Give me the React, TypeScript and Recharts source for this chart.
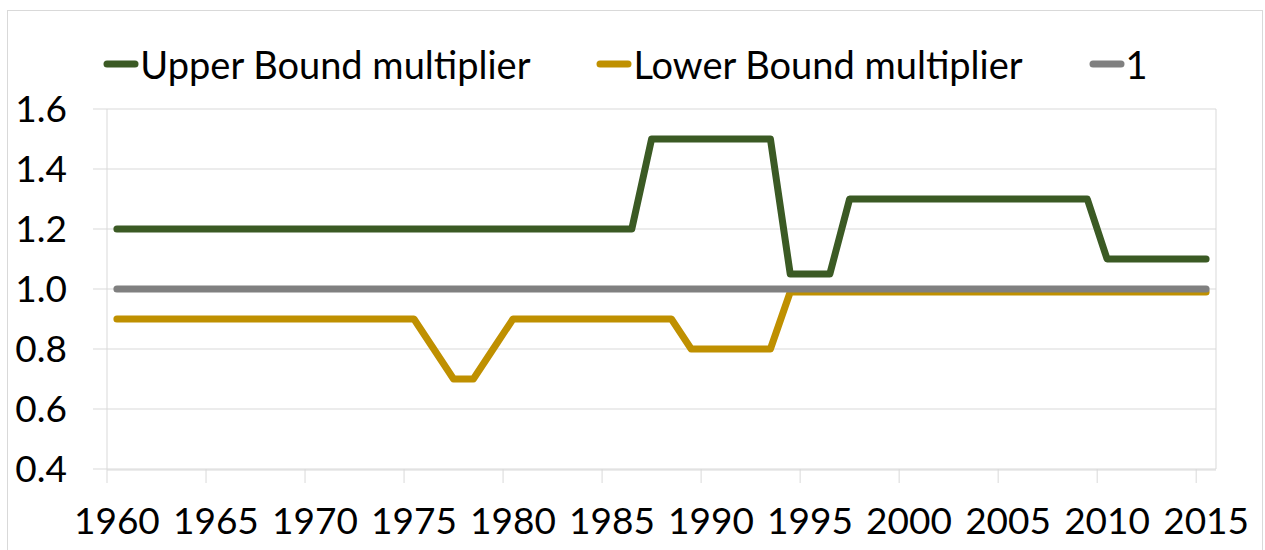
import React from 'react';
import {
  LineChart,
  Line,
  XAxis,
  YAxis,
  CartesianGrid,
  Legend,
  ReferenceLine,
} from 'recharts';

const years = [
  1960, 1961, 1962, 1963, 1964, 1965, 1966, 1967, 1968, 1969,
  1970, 1971, 1972, 1973, 1974, 1975, 1976, 1977, 1978, 1979,
  1980, 1981, 1982, 1983, 1984, 1985, 1986, 1987, 1988, 1989,
  1990, 1991, 1992, 1993, 1994, 1995, 1996, 1997, 1998, 1999,
  2000, 2001, 2002, 2003, 2004, 2005, 2006, 2007, 2008, 2009,
  2010, 2011, 2012, 2013, 2014, 2015,
];

const upperBound = [
  1.2, 1.2, 1.2, 1.2, 1.2, 1.2, 1.2, 1.2, 1.2, 1.2,
  1.2, 1.2, 1.2, 1.2, 1.2, 1.2, 1.2, 1.2, 1.2, 1.2,
  1.2, 1.2, 1.2, 1.2, 1.2, 1.2, 1.2, 1.5, 1.5, 1.5,
  1.5, 1.5, 1.5, 1.5, 1.05, 1.05, 1.05, 1.3, 1.3, 1.3,
  1.3, 1.3, 1.3, 1.3, 1.3, 1.3, 1.3, 1.3, 1.3, 1.3,
  1.1, 1.1, 1.1, 1.1, 1.1, 1.1,
];

const lowerBound = [
  0.9, 0.9, 0.9, 0.9, 0.9, 0.9, 0.9, 0.9, 0.9, 0.9,
  0.9, 0.9, 0.9, 0.9, 0.9, 0.9, 0.8, 0.7, 0.7, 0.8,
  0.9, 0.9, 0.9, 0.9, 0.9, 0.9, 0.9, 0.9, 0.9, 0.8,
  0.8, 0.8, 0.8, 0.8, 0.99, 0.99, 0.99, 0.99, 0.99, 0.99,
  0.99, 0.99, 0.99, 0.99, 0.99, 0.99, 0.99, 0.99, 0.99, 0.99,
  0.99, 0.99, 0.99, 0.99, 0.99, 0.99,
];

const unity = [
  1, 1, 1, 1, 1, 1, 1, 1, 1, 1,
  1, 1, 1, 1, 1, 1, 1, 1, 1, 1,
  1, 1, 1, 1, 1, 1, 1, 1, 1, 1,
  1, 1, 1, 1, 1, 1, 1, 1, 1, 1,
  1, 1, 1, 1, 1, 1, 1, 1, 1, 1,
  1, 1, 1, 1, 1, 1,
];

const seriesNames = ['Upper Bound multiplier', 'Lower Bound multiplier', '1'];
const yearLabels = [1960, 1965, 1970, 1975, 1980, 1985, 1990, 1995, 2000, 2005, 2010, 2015];
// tick marks sit between categories, like Excel's category axis
const tickMarkYears = [1959.5, 1964.5, 1969.5, 1974.5, 1979.5, 1984.5, 1989.5, 1994.5, 1999.5, 2004.5, 2009.5, 2014.5];
const yTicks = [0.4, 0.6, 0.8, 1.0, 1.2, 1.4, 1.6];

const data = years.map((year, i) => ({
  year,
  upper: upperBound[i],
  lower: lowerBound[i],
  one: unity[i],
}));

const FONT = 'Lato, "Open Sans", sans-serif';
const GRID = '#d9d9d9';

function LegendRow({ payload }: { payload?: Array<{ value: string; color: string }> }) {
  if (!payload) return null;
  const items = [...payload].sort(
    (a, b) => seriesNames.indexOf(a.value) - seriesNames.indexOf(b.value)
  );
  return (
    <div
      style={{
        height: 50,
        display: 'flex',
        alignItems: 'center',
        justifyContent: 'center',
        gap: 66,
        paddingRight: 14,
        fontFamily: FONT,
        fontSize: 38,
        color: '#000',
      }}
    >
      {items.map((p) => (
        <span key={p.value} style={{ display: 'flex', alignItems: 'center' }}>
          <svg width={36} height={10} style={{ marginRight: 1 }}>
            <line x1={4} y1={5} x2={32} y2={5} stroke={p.color} strokeWidth={7} strokeLinecap="round" />
          </svg>
          {p.value}
        </span>
      ))}
    </div>
  );
}

const NoLabel = () => <g />;

export default function App() {
  return (
    <div
      style={{
        position: 'absolute',
        left: 0,
        top: 0,
        width: 1265,
        height: 550,
        overflow: 'hidden',
        background: '#fff',
        fontFamily: FONT,
      }}
    >
      <div
        style={{
          position: 'absolute',
          left: 7,
          top: 10,
          width: 1256,
          height: 560,
          border: `1px solid ${GRID}`,
          boxSizing: 'border-box',
        }}
      />
      <LineChart
        width={1265}
        height={550}
        data={data}
        margin={{ top: 59, right: 49, bottom: 20, left: 0 }}
      >
        <Legend
          verticalAlign="top"
          content={<LegendRow />}
          wrapperStyle={{ top: 39, left: 0, width: 1265 }}
        />
        <CartesianGrid xAxisId="year" vertical={false} stroke={GRID} />
        <XAxis
          xAxisId="marks"
          dataKey="year"
          type="number"
          domain={[1959.5, 2015.5]}
          ticks={tickMarkYears}
          interval={0}
          tick={NoLabel}
          tickSize={14}
          tickLine={{ stroke: GRID }}
          axisLine={false}
          height={1}
        />
        <XAxis
          xAxisId="year"
          dataKey="year"
          type="number"
          domain={[1959.5, 2015.5]}
          ticks={yearLabels}
          interval={0}
          tickLine={false}
          tickSize={0}
          tickMargin={38}
          axisLine={{ stroke: GRID }}
          height={60}
          tick={{ fill: '#000', fontSize: 37, fontFamily: FONT }}
        />
        <YAxis
          domain={[0.4, 1.6]}
          ticks={yTicks}
          interval={0}
          width={107}
          tickSize={14}
          tickMargin={26}
          tickLine={{ stroke: GRID }}
          axisLine={{ stroke: GRID }}
          tickFormatter={(v: number) => v.toFixed(1)}
          tick={{ fill: '#000', fontSize: 37, fontFamily: FONT }}
        />
        <ReferenceLine xAxisId="year" x={2015.5} stroke={GRID} />
        <Line
          xAxisId="year"
          name={seriesNames[0]}
          dataKey="upper"
          stroke="#3b5a24"
          strokeWidth={7}
          strokeLinecap="round"
          strokeLinejoin="round"
          dot={false}
          isAnimationActive={false}
        />
        <Line
          xAxisId="year"
          name={seriesNames[1]}
          dataKey="lower"
          stroke="#bf9000"
          strokeWidth={7}
          strokeLinecap="round"
          strokeLinejoin="round"
          dot={false}
          isAnimationActive={false}
        />
        <Line
          xAxisId="year"
          name={seriesNames[2]}
          dataKey="one"
          stroke="#808080"
          strokeWidth={7}
          strokeLinecap="round"
          strokeLinejoin="round"
          dot={false}
          isAnimationActive={false}
        />
      </LineChart>
    </div>
  );
}
